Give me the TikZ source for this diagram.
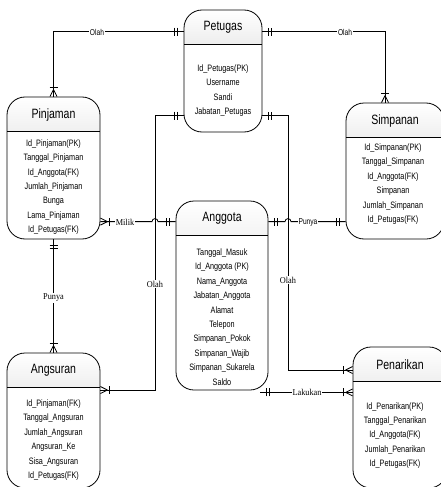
\documentclass[tikz,border=0pt]{standalone}
\usepackage{fontspec}
\setmainfont[FakeStretch=0.78]{Liberation Sans}
\newfontfamily\relfont[FakeStretch=0.92]{Liberation Serif}
\usetikzlibrary{positioning,decorations.markings}

\begin{document}
\begin{tikzpicture}[x=1pt, y=-1pt,
			entity/.style={draw, line width=0.8pt, rounded corners=18pt, inner sep=0pt,
				path picture={
					\shade[sharp corners, top color=white, bottom color=black!25]
						(path picture bounding box.north west) rectangle ([yshift=-34pt]path picture bounding box.north east);
					\draw[line width=0.8pt] ([yshift=-34pt]path picture bounding box.north west) -- ([yshift=-34pt]path picture bounding box.north east);
				}},
			enttitle/.style={font=\fontsize{13.5}{15}\selectfont},
			entattr/.style={align=center, font=\fontsize{9.3}{14.4}\selectfont},
			relsans/.style={fill=white, inner sep=1pt, font=\fontsize{8.5}{9}\selectfont},
			relserif/.style={fill=white, inner sep=1pt, font=\relfont\fontsize{9}{10}\selectfont},
			conn/.style={draw, line width=0.8pt},
			onlyone start/.style={postaction={decorate, decoration={markings,
				mark=at position 6pt with {\draw (0,-4pt) -- (0,4pt);},
				mark=at position 9pt with {\draw (0,-4pt) -- (0,4pt);}}}},
			onlyone end/.style={postaction={decorate, decoration={markings,
				mark=at position -9pt with {\draw (0,-4pt) -- (0,4pt);},
				mark=at position -6pt with {\draw (0,-4pt) -- (0,4pt);}}}},
			crow start/.style={postaction={decorate, decoration={markings,
				mark=at position 0 with {\draw (7pt,0) -- (0,3.5pt) (7pt,0) -- (0,-3.5pt);},
				mark=at position 9pt with {\draw (0,-4pt) -- (0,4pt);}}}},
			crow end/.style={postaction={decorate, decoration={markings,
				mark=at position -9pt with {\draw (0,-4pt) -- (0,4pt);},
				mark=at position 1 with {\draw (-7pt,0) -- (0,3.5pt) (-7pt,0) -- (0,-3.5pt);}}}},
			]
			\useasboundingbox (0,0) rectangle (441,487);
			%Entities
				\node[entity, minimum width=78pt, minimum height=122pt]		(petugas)		at (223,71)		{};
				\node[entity, minimum width=93pt, minimum height=142pt]		(pinjaman)		at (53.5,168)		{};
				\node[entity, minimum width=98pt, minimum height=136pt]		(simpanan)		at (395,171)		{};
				\node[entity, minimum width=92pt, minimum height=189pt]		(anggota)		at (222,295.5)		{};
				\node[entity, minimum width=93pt, minimum height=135pt]		(angsuran)		at (53.5,420.5)		{};
				\node[entity, minimum width=94pt, minimum height=141pt]		(penarikan)		at (400,417.5)		{};
				% titles
				\node[enttitle]		(petugasT)		at ([yshift=-18pt]petugas.north)		{Petugas};
				\node[enttitle]		(pinjamanT)		at ([yshift=-18pt]pinjaman.north)		{Pinjaman};
				\node[enttitle]		(simpananT)		at ([yshift=-18pt]simpanan.north)		{Simpanan};
				\node[enttitle]		(anggotaT)		at ([yshift=-18pt]anggota.north)		{Anggota};
				\node[enttitle]		(angsuranT)		at ([yshift=-18pt]angsuran.north)		{Angsuran};
				\node[enttitle]		(penarikanT)		at ([yshift=-18pt]penarikan.north)		{Penarikan};
				% attributes
				\node[entattr]		(petugasA)		at (223,90.6)		{Id\_Petugas(PK)\\Username\\Sandi\\Jabatan\_Petugas};
				\node[entattr]		(pinjamanA)		at (53.5,187)		{Id\_Pinjaman(PK)\\Tanggal\_Pinjaman\\Id\_Anggota(FK)\\Jumlah\_Pinjaman\\Bunga\\Lama\_Pinjaman\\Id\_Petugas(FK)};
				\node[entattr]		(simpananA)		at (393,184)		{Id\_Simpanan(PK)\\Tanggal\_Simpanan\\Id\_Anggota(FK)\\Simpanan\\Jumlah\_Simpanan\\Id\_Petugas(FK)};
				\node[entattr]		(anggotaA)		at (222,317)		{Tanggal\_Masuk\\Id\_Anggota (PK)\\Nama\_Anggota\\Jabatan\_Anggota\\Alamat\\Telepon\\Simpanan\_Pokok\\Simpanan\_Wajib\\Simpanan\_Sukarela\\Saldo};
				\node[entattr]		(angsuranA)		at (53.5,440)		{Id\_Pinjaman(FK)\\Tanggal\_Angsuran\\Jumlah\_Angsuran\\Angsuran\_Ke\\Sisa\_Angsuran\\Id\_Petugas(FK)};
				\node[entattr]		(penarikanA)		at (395,435.5)		{Id\_Penarikan(PK)\\Tanggal\_Penarikan\\Id\_Anggota(FK)\\Jumlah\_Penarikan\\Id\_Petugas(FK)};

			%Bend points
				\coordinate		(olahL)		at (155,390);
				\coordinate		(olahR)		at (288,370);
				\coordinate		(milikA)		at ([yshift=-21pt]anggota.north west);
				\coordinate		(punyaA)		at ([yshift=-21pt]anggota.north east);
				\coordinate		(lakukanA)		at ([xshift=-8pt,yshift=-2pt]anggota.south east);

			%Lines
				\draw[conn, onlyone start, crow end] ([yshift=-22pt]petugas.north west) -| (pinjaman.north);
				\draw[conn, onlyone start, crow end] ([yshift=-22pt]petugas.north east) -| ([xshift=-10pt]simpanan.north);
				\draw[conn, onlyone start, crow end] ([yshift=-106pt]petugas.north west) -| (olahL) -- (angsuran.east |- olahL);
				\draw[conn, onlyone start, crow end] ([yshift=-106pt]petugas.north east) -| (olahR) -- (penarikan.west |- olahR);
				\draw[conn, crow start, onlyone end] (pinjaman.east |- milikA) -- ([xshift=-3pt]olahL |- milikA) arc[start angle=180, end angle=0, radius=3pt] -- (milikA);
				\draw[conn, onlyone start, onlyone end] (punyaA) -- ([xshift=-3pt]olahR |- punyaA) arc[start angle=180, end angle=0, radius=3pt] -- (simpanan.west |- punyaA);
				\draw[conn, onlyone start, crow end] (pinjaman.south) -- (angsuran.north);
				\draw[conn, onlyone start, crow end] (lakukanA) -- (penarikan.west |- lakukanA);
				% labels
				\node[relsans]		(olah1)		at (97,32)		{Olah};
				\node[relsans]		(olah2)		at (345,32)		{Olah};
				\node[relserif]		(olah3)		at (155,284)		{Olah};
				\node[relserif]		(olah4)		at (288,280)		{Olah};
				\node[relserif]		(milik)		at (125,222)		{Milik};
				\node[relsans]		(punya1)		at (308,222)		{Punya};
				\node[relserif]		(punya2)		at (53.5,298)		{Punya};
				\node[relserif]		(lakukan)		at (307,392)		{Lakukan};
		\end{tikzpicture}
\end{document}
